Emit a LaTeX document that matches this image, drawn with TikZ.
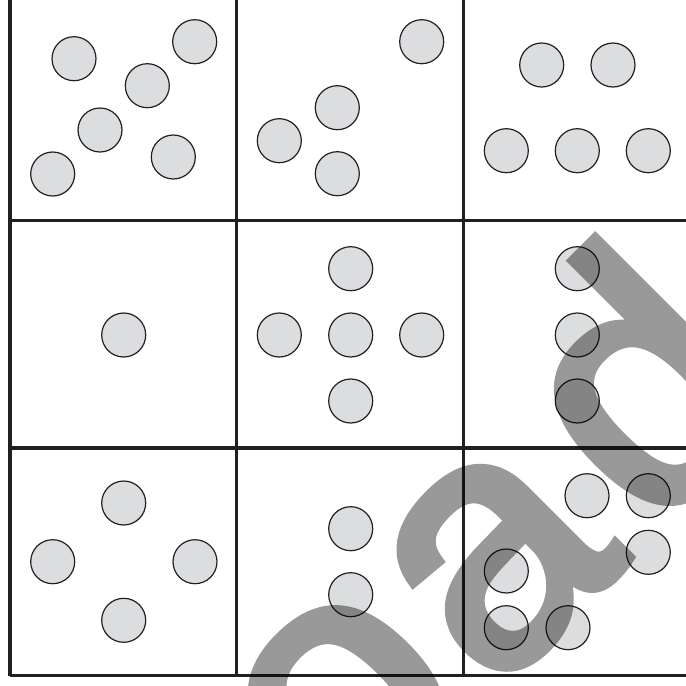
\documentclass[tikz,border=0pt]{standalone}
\usepackage{fontspec}
\newfontfamily\wmfont{Liberation Sans}[FakeBold=3.3]
\definecolor{ink}{HTML}{231F20}
\definecolor{ballfill}{HTML}{DCDDDE}
\begin{document}
\begin{tikzpicture}[x=1pt,y=-1pt,
  gridline/.style={ink,line width=3.3pt},
  ball/.style={circle,draw=ink,fill=ballfill,line width=1.2pt,minimum size=44pt,inner sep=0pt},
  wm/.style={inner sep=0pt,text=black,font=\wmfont\fontsize{345}{345}\selectfont}]
\useasboundingbox (0,0) rectangle (686,686);
\clip (0,0) rectangle (686,686);
\fill[white] (0,0) rectangle (686,686);
% grid
\foreach \gx in {10,236.8,463.6}
  \draw[gridline] (\gx,-10) -- (\gx,675.5);
\foreach \gy in {220.5,448,675.5}
  \draw[gridline] (10,\gy) -- (700,\gy);
% row 1
\node[ball] (a1) at (74,58.7) {};
\node[ball] (a2) at (194.7,41.7) {};
\node[ball] (a3) at (147.3,85.7) {};
\node[ball] (a4) at (100,130) {};
\node[ball] (a5) at (52.7,174) {};
\node[ball] (a6) at (173.3,157) {};
\node[ball] (b1) at (421.7,41.7) {};
\node[ball] (b2) at (337.3,107.7) {};
\node[ball] (b3) at (279.3,140.7) {};
\node[ball] (b4) at (337.3,173.7) {};
\node[ball] (c1) at (541.7,65) {};
\node[ball] (c2) at (613,65) {};
\node[ball] (c3) at (506.3,150.7) {};
\node[ball] (c4) at (577.3,150.7) {};
\node[ball] (c5) at (648.3,150.7) {};
% row 2
\node[ball] (d1) at (123.7,335) {};
\node[ball] (e1) at (350.7,268.7) {};
\node[ball] (e2) at (279.3,335) {};
\node[ball] (e3) at (350.7,335) {};
\node[ball] (e4) at (421.7,335) {};
\node[ball] (e5) at (350.7,401) {};
\node[ball] (f1) at (577.3,268.7) {};
\node[ball] (f2) at (577.3,335) {};
\node[ball] (f3) at (577.3,401) {};
% row 3
\node[ball] (g1) at (123.7,503) {};
\node[ball] (g2) at (52.7,561.7) {};
\node[ball] (g3) at (195,561.7) {};
\node[ball] (g4) at (123.7,620.3) {};
\node[ball] (h1) at (350.7,528.7) {};
\node[ball] (h2) at (350.7,594.7) {};
\node[ball] (i1) at (587,495.7) {};
\node[ball] (i2) at (648.3,495.7) {};
\node[ball] (i3) at (648.3,552.3) {};
\node[ball] (i4) at (506.3,571) {};
\node[ball] (i5) at (506.3,627.7) {};
\node[ball] (i6) at (568,627.7) {};
% watermark
\begin{scope}[transparency group,opacity=0.4]
\node[wm,rotate=45,anchor=base east] (wmark) at (788.8,399.2) {\raisebox{5pt}{o}\kern16pt a\kern33pt d};
\end{scope}
\end{tikzpicture}
\end{document}
